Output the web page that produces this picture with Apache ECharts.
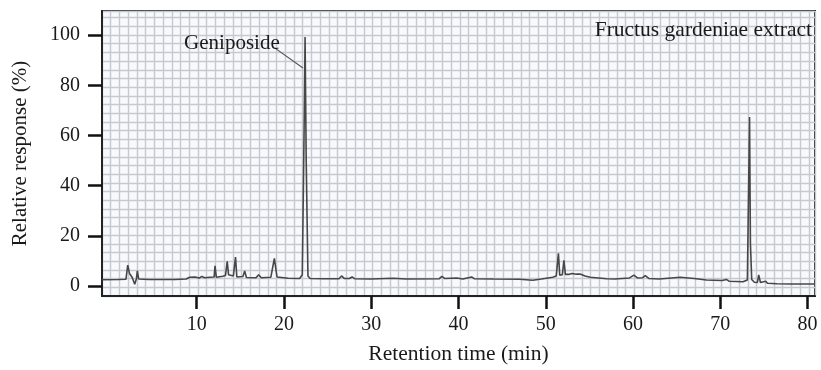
<!DOCTYPE html>
<html>
<head>
<meta charset="utf-8">
<script src="https://cdn.jsdelivr.net/npm/echarts@6/dist/echarts.min.js"></script>
<style>html,body{margin:0;padding:0;background:#fff}#c{width:821px;height:370px}</style>
</head>
<body>
<div id="c"></div>
<script>
// Retention time (min)
const times = [-0.85,1.0,1.9,2.1,2.3,2.6,2.9,3.1,3.2,3.35,4.5,6.0,7.5,8.8,9.2,9.8,10.3,10.6,10.9,11.5,12.0,12.1,12.25,13.0,13.3,13.5,13.65,14.2,14.45,14.6,15.3,15.5,15.7,16.8,17.1,17.4,18.5,18.9,19.2,20.5,21.8,22.1,22.3,22.42,22.55,22.75,23.0,24.5,26.3,26.6,26.9,27.5,27.8,28.1,30,32.5,34,37.8,38.1,38.4,39.8,40.5,41.5,41.8,44,47,48.5,49.5,50.8,51.2,51.45,51.6,51.9,52.08,52.25,52.6,53.0,53.5,54.0,54.5,55.1,57,58.0,58.1,58.3,59.6,60.1,60.5,61.1,61.4,61.8,63,65.4,67,68.4,70.2,70.7,71.0,72.6,73.1,73.35,73.45,73.6,73.9,74.25,74.4,74.6,75.2,75.4,76.5,78,80.85];
// Relative response (%)
const response = [2.5,2.6,2.7,8.3,5.0,3.5,0.7,3.0,6.0,2.8,2.6,2.6,2.6,2.8,3.5,3.6,3.2,3.8,3.3,3.5,3.6,8.0,3.5,3.9,4.2,9.8,4.5,4.0,11.5,3.6,3.8,6.0,3.4,3.3,4.5,3.3,3.5,11.0,3.6,3.1,3.0,4.5,60,99.2,50,4.0,3.0,2.9,2.9,4.0,3.0,3.0,3.6,2.9,2.8,3.1,2.8,2.9,3.8,3.0,3.2,2.8,3.6,2.9,2.8,2.7,2.3,2.8,3.5,4.0,13.0,4.3,4.5,10.2,4.6,4.6,5.0,4.7,4.7,4.0,3.5,2.9,2.8,3.5,2.9,3.2,4.3,3.2,3.3,4.1,3.0,2.8,3.5,3.0,2.4,2.2,2.6,1.9,1.7,2.4,67.3,17,2.6,1.5,1.4,4.4,1.4,1.9,1.1,0.9,0.8,0.8];

const xTicks = [10,20,30,40,50,60,70,80];
const yTicks = [0,20,40,60,80,100];
const peakName = 'Geniposide';
const peakLabelAt = [14.04, 96.8];
const peakLeader = [[18.97, 94.8], [22.18, 86.9]];
const sampleName = 'Fructus gardeniae extract';

const FONT = 'Liberation Serif';
const chart = echarts.init(document.getElementById('c'));
chart.setOption({
  animation: false,
  grid: {left: 102, right: 6, top: 11, bottom: 74, show: true, backgroundColor: '#f7f9fc', borderColor: '#2b2b2b', borderWidth: 2},
  graphic: [{type: 'text', right: 9, top: 19, z: 10, style: {text: sampleName, font: '21.5px "Liberation Serif"', fill: '#1a1a1a'}}],
  xAxis: [{
    type: 'value', min: -0.85, max: 80.85,
    name: 'Retention time (min)', nameLocation: 'middle', nameGap: 47,
    nameTextStyle: {fontFamily: FONT, fontSize: 21.5, color: '#1a1a1a'},
    axisLine: {show: true, onZero: false, lineStyle: {color: '#222', width: 2}},
    axisTick: {show: true, length: 13, customValues: xTicks, lineStyle: {color: '#111', width: 2.5}},
    axisLabel: {customValues: xTicks, margin: 19, fontFamily: FONT, fontSize: 20, color: '#1a1a1a'},
    splitLine: {show: false}
  }, {
    type: 'value', min: 0, max: 81.7, interval: 1, position: 'top',
    axisLine: {show: false}, axisTick: {show: false}, axisLabel: {show: false},
    splitLine: {show: true, lineStyle: {color: '#c6cad0', width: 1.4}}
  }],
  yAxis: [{
    type: 'value', min: -4, max: 109.6,
    name: 'Relative response (%)', nameLocation: 'middle', nameGap: 71,
    nameTextStyle: {fontFamily: FONT, fontSize: 21, color: '#1a1a1a'},
    axisLine: {show: true, onZero: false, lineStyle: {color: '#222', width: 2}},
    axisTick: {show: true, length: 14, customValues: yTicks, lineStyle: {color: '#111', width: 2.5}},
    axisLabel: {customValues: yTicks, margin: 22, fontFamily: FONT, fontSize: 20, color: '#1a1a1a'},
    splitLine: {show: false}
  }, {
    type: 'value', min: 0, max: 32.76, interval: 1, position: 'right',
    axisLine: {show: false}, axisTick: {show: false}, axisLabel: {show: false},
    splitLine: {show: true, lineStyle: {color: '#c6cad0', width: 1.4}}
  }],
  series: [{
    type: 'line', xAxisIndex: 0, yAxisIndex: 0,
    data: times.map((t, i) => [t, response[i]]),
    showSymbol: false, symbol: 'none',
    lineStyle: {color: '#474747', width: 1.6},
    z: 5,
    markLine: {
      silent: true, symbol: 'none', animation: false,
      lineStyle: {color: '#555', width: 1.2, type: 'solid'},
      label: {show: false},
      data: [[{coord: peakLeader[0]}, {coord: peakLeader[1]}]]
    },
    markPoint: {
      silent: true, symbol: 'rect', symbolSize: 0,
      label: {show: true, position: 'inside', formatter: peakName, fontFamily: FONT, fontSize: 21, color: '#1a1a1a'},
      data: [{coord: peakLabelAt}]
    }
  }]
});
</script>
</body>
</html>
